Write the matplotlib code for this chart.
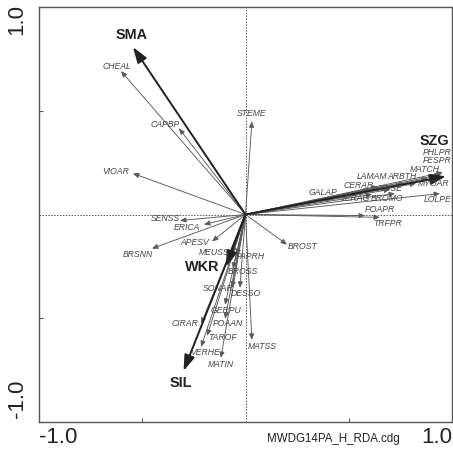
import matplotlib as mpl
mpl.use('Agg')
import matplotlib.pyplot as plt

plt.rcParams['font.family'] = ['Liberation Sans', 'DejaVu Sans']

# environmental variables (biplot scores)
env_names = ['SMA', 'SZG', 'WKR', 'SIL']
env_x = [-0.545, 0.971, -0.094, -0.300]
env_y = [0.807, 0.184, -0.251, -0.754]

# species scores
spe_names = ['CHEAL', 'CAPBP', 'VIOAR', 'STEME', 'PHLPR', 'FESPR', 'MATCH', 'ARBTH',
             'MYOAR', 'LOLPE', 'LAMAM', 'CERAR', 'ARISE', 'GALAP', 'VERAG', 'BROMO',
             'POAPR', 'TRFPR', 'BROST', 'SENSS', 'ERICA', 'APESV', 'BRSNN', 'MEUSS',
             'PAPRH', 'BROSS', 'SONAR', 'DESSO', 'GERPU', 'POAAN', 'CIRAR', 'TAROF',
             'VERHE', 'MATIN', 'MATSS']
spe_x = [-0.603, -0.322, -0.545, 0.031, 0.956, 0.947, 0.884, 0.772,
         0.826, 0.942, 0.642, 0.603, 0.700, 0.419, 0.613, 0.724,
         0.579, 0.651, 0.201, -0.317, -0.201, -0.162, -0.453, -0.065,
         -0.041, -0.061, -0.065, -0.027, -0.099, -0.099, -0.215, -0.186,
         -0.215, -0.119, 0.031]
spe_y = [0.691, 0.415, 0.198, 0.449, 0.203, 0.193, 0.174, 0.150,
         0.150, 0.101, 0.135, 0.121, 0.121, 0.077, 0.097, 0.101,
         -0.005, -0.014, -0.145, -0.029, -0.048, -0.130, -0.164, -0.188,
         -0.198, -0.261, -0.353, -0.353, -0.435, -0.502, -0.527, -0.585,
         -0.638, -0.691, -0.604]

# label offsets from arrow tip, in pixels (x right, y up)
env_off = {'SMA': (-1, 12), 'SZG': (-12, 35), 'WKR': (-24, 0), 'SIL': (-3, -12)}
spe_off = {'CHEAL': (-4, 5), 'CAPBP': (-14, 4), 'VIOAR': (-17, 2), 'STEME': (0, 8),
           'PHLPR': (-6, 20), 'FESPR': (-4, 14), 'MATCH': (-3, 9), 'ARBTH': (-3, 7),
           'MYOAR': (17, 0), 'LOLPE': (-2, -6), 'LAMAM': (-6, 10), 'CERAR': (-11, 4),
           'ARISE': (-1, 1), 'GALAP': (-9, 6), 'VERAG': (-18, -4), 'BROMO': (-8, -5),
           'POAPR': (15, 6), 'TRFPR': (8, -6), 'BROST': (16, -2), 'SENSS': (-15, 2),
           'ERICA': (-17, -3), 'APESV': (-17, -1), 'BRSNN': (-14, -6), 'MEUSS': (-18, 1),
           'PAPRH': (13, -1), 'BROSS': (10, -3), 'SONAR': (-14, -1), 'DESSO': (6, -6),
           'GERPU': (1, -6), 'POAAN': (3, -5), 'CIRAR': (-16, 0), 'TAROF': (15, -2),
           'VERHE': (4, -6), 'MATIN': (0, -7), 'MATSS': (10, -7)}

fig = plt.figure(figsize=(4.53, 4.5), dpi=100)
ax = fig.add_axes([39/453, 1-422/450, 413/453, 415/450])
ax.set_xlim(-1, 1)
ax.set_ylim(-1, 1)

ax.axhline(0, color='#555555', lw=0.7, ls=(0, (1.5, 1.5)), zorder=1)
ax.axvline(0, color='#555555', lw=0.7, ls=(0, (1.5, 1.5)), zorder=1)

for i, name in enumerate(spe_names):
    ax.annotate('', xy=(spe_x[i], spe_y[i]), xytext=(0, 0),
                arrowprops=dict(arrowstyle='-|>,head_length=0.35,head_width=0.15',
                                color='#5a5a5a', lw=0.65, shrinkA=0, shrinkB=0), zorder=2)
    ax.annotate(name, xy=(spe_x[i], spe_y[i]), xytext=spe_off[name],
                textcoords='offset pixels', ha='center', va='center',
                fontsize=6.2, style='italic', color='#454545', zorder=4)

for i, name in enumerate(env_names):
    ax.annotate('', xy=(env_x[i], env_y[i]), xytext=(0, 0),
                arrowprops=dict(arrowstyle='-|>,head_length=0.95,head_width=0.32',
                                color='#222222', lw=1.4, shrinkA=0, shrinkB=0), zorder=3)
    ax.annotate(name, xy=(env_x[i], env_y[i]), xytext=env_off[name],
                textcoords='offset pixels', ha='center', va='center',
                fontsize=10.4, fontweight='bold', color='#222222', zorder=4)

for s in ax.spines.values():
    s.set_color('#555555')
    s.set_linewidth(1.0)
ax.set_xticks([-0.5, 0.5])
ax.set_yticks([-0.5, 0.5])
ax.set_xticklabels([])
ax.set_yticklabels([])
ax.tick_params(direction='in', length=3, width=0.8, color='#555555')

# axis range labels
ax.text(-1, -1.025, '-1.0', ha='left', va='top', fontsize=16, color='#222222')
ax.text(1, -1.025, '1.0', ha='right', va='top', fontsize=16, color='#222222')
ax.text(-1.055, 1.015, '1.0', ha='right', va='top', rotation=90, fontsize=16, color='#222222')
ax.text(-1.055, -0.98, '-1.0', ha='right', va='bottom', rotation=90, fontsize=16, color='#222222')
ax.text(0.104, -1.08, 'MWDG14PA_H_RDA.cdg', ha='left', va='center', fontsize=8.3, color='#222222')

fig.savefig('out.png', dpi=100)
